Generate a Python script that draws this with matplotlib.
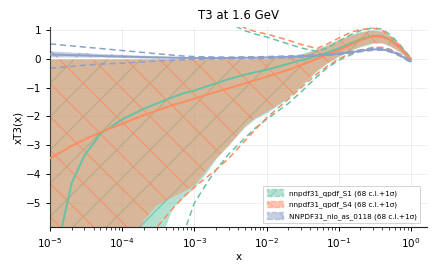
import numpy as np
import matplotlib
matplotlib.use("Agg")
import matplotlib.pyplot as plt
import matplotlib.patches as mpatches

# ---------------- data ----------------
xgrid = [1e-5, 1.5e-5, 2e-5, 3e-5, 5e-5, 1e-4, 2e-4, 3e-4, 5e-4, 7e-4,
         1e-3, 1.5e-3, 2e-3, 3e-3, 5e-3, 7e-3, 1e-2, 2e-2, 3e-2, 5e-2,
         0.07, 0.1, 0.15, 0.2, 0.3, 0.4, 0.5, 0.6, 0.7, 0.8, 0.9, 1.0]

# nnpdf31_qpdf_S1
s1_central = [-9.5, -5.7, -4.3, -3.35, -2.6, -2.1, -1.73, -1.55, -1.33, -1.2,
              -1.1, -0.95, -0.85, -0.7, -0.55, -0.46, -0.38, -0.17, -0.05, 0.1,
              0.22, 0.36, 0.55, 0.68, 0.8, 0.79, 0.68, 0.54, 0.4, 0.25, 0.11, 0.0]
s1_lo68 = [-30, -27, -24, -20, -16, -12, -8.5, -6.7, -5.2, -4.85,
           -4.5, -3.95, -3.5, -3.02, -2.4, -2.1, -1.9, -1.4, -1.0, -0.45,
           -0.17, 0.06, 0.28, 0.4, 0.52, 0.53, 0.45, 0.34, 0.23, 0.12, 0.03, -0.02]
s1_hi68 = [-0.02, -0.02, -0.02, -0.02, -0.02, -0.02, -0.02, -0.02, -0.02, -0.02,
           -0.02, -0.02, -0.02, -0.02, -0.02, -0.01, 0.0, 0.05, 0.15, 0.33,
           0.48, 0.65, 0.83, 0.93, 1.0, 0.96, 0.83, 0.67, 0.52, 0.35, 0.18, 0.03]
s1_lo1s = [-50, -45, -40, -34, -28, -18, -13, -10, -7.5, -6.1,
           -5.0, -4.3, -3.85, -3.3, -2.75, -2.4, -2.1, -1.55, -1.15, -0.62,
           -0.3, -0.05, 0.15, 0.28, 0.38, 0.38, 0.33, 0.24, 0.15, 0.07, 0.01, -0.04]
s1_hi1s = [22, 19, 17, 15, 12, 9, 6.3, 5.0, 4.0, 3.3,
           2.7, 2.1, 1.7, 1.25, 0.98, 0.86, 0.76, 0.52, 0.38, 0.26,
           0.38, 0.62, 0.85, 0.98, 1.08, 1.03, 0.86, 0.68, 0.5, 0.33, 0.17, 0.03]

# nnpdf31_qpdf_S4
s4_central = [-3.45, -3.2, -3.02, -2.8, -2.55, -2.25, -1.95, -1.8, -1.6, -1.5,
              -1.38, -1.24, -1.15, -1.02, -0.85, -0.74, -0.62, -0.38, -0.22, 0.0,
              0.15, 0.3, 0.5, 0.65, 0.78, 0.77, 0.66, 0.52, 0.38, 0.24, 0.1, 0.0]
s4_lo68 = [-20, -18, -16, -14, -12, -7.5, -5.6, -5.1, -4.8, -4.62,
           -4.4, -3.85, -3.45, -3.0, -2.35, -2.05, -1.85, -1.35, -0.95, -0.42,
           -0.15, 0.08, 0.3, 0.42, 0.55, 0.55, 0.47, 0.35, 0.24, 0.13, 0.04, -0.02]
s4_hi68 = [-0.02, -0.02, -0.02, -0.02, -0.02, -0.02, -0.02, -0.02, -0.02, -0.02,
           -0.02, -0.02, -0.02, -0.02, -0.02, -0.01, 0.0, 0.05, 0.12, 0.3,
           0.45, 0.62, 0.8, 0.9, 0.97, 0.93, 0.8, 0.65, 0.5, 0.33, 0.17, 0.02]
s4_lo1s = [-40, -35, -31, -27, -22, -12, -7.0, -5.85, -5.2, -4.8,
           -4.45, -4.1, -3.85, -3.45, -2.85, -2.45, -2.05, -1.4, -1.0, -0.52,
           -0.25, 0.0, 0.2, 0.3, 0.4, 0.4, 0.34, 0.25, 0.16, 0.08, 0.02, -0.04]
s4_hi1s = [23, 20, 18, 16, 13, 10, 7.0, 5.5, 4.3, 3.7,
           3.0, 2.3, 1.9, 1.45, 1.07, 0.95, 0.86, 0.65, 0.5, 0.36,
           0.52, 0.72, 0.93, 1.02, 1.06, 1.0, 0.8, 0.62, 0.46, 0.3, 0.15, 0.02]

# NNPDF31_nlo_as_0118
nn_central = [0.15, 0.14, 0.13, 0.12, 0.1, 0.08, 0.06, 0.05, 0.04, 0.035,
              0.03, 0.03, 0.03, 0.03, 0.04, 0.04, 0.05, 0.07, 0.09, 0.12,
              0.15, 0.18, 0.23, 0.28, 0.33, 0.33, 0.28, 0.21, 0.13, 0.05, -0.03, -0.08]
nn_lo68 = [0.05, 0.05, 0.05, 0.05, 0.05, 0.03, 0.02, 0.02, 0.015, 0.01,
           0.01, 0.01, 0.01, 0.01, 0.02, 0.02, 0.03, 0.05, 0.07, 0.1,
           0.13, 0.16, 0.21, 0.26, 0.31, 0.31, 0.26, 0.19, 0.11, 0.03, -0.05, -0.1]
nn_hi68 = [0.26, 0.24, 0.22, 0.2, 0.17, 0.14, 0.11, 0.09, 0.075, 0.065,
           0.055, 0.05, 0.05, 0.05, 0.06, 0.06, 0.07, 0.09, 0.11, 0.14,
           0.17, 0.2, 0.25, 0.3, 0.35, 0.35, 0.3, 0.23, 0.15, 0.07, -0.01, -0.06]
nn_lo1s = [-0.32, -0.29, -0.26, -0.22, -0.18, -0.15, -0.1, -0.07, -0.05, -0.03,
           -0.02, -0.01, 0.0, 0.0, 0.01, 0.01, 0.02, 0.04, 0.06, 0.09,
           0.12, 0.15, 0.2, 0.25, 0.3, 0.3, 0.25, 0.18, 0.1, 0.02, -0.06, -0.11]
nn_hi1s = [0.52, 0.48, 0.45, 0.41, 0.36, 0.29, 0.22, 0.18, 0.13, 0.1,
           0.08, 0.07, 0.065, 0.06, 0.07, 0.07, 0.08, 0.1, 0.12, 0.15,
           0.18, 0.21, 0.26, 0.31, 0.36, 0.36, 0.31, 0.24, 0.16, 0.08, 0.0, -0.05]

labels = ["nnpdf31_qpdf_S1 (68 c.l.+1σ)",
          "nnpdf31_qpdf_S4 (68 c.l.+1σ)",
          "NNPDF31_nlo_as_0118 (68 c.l.+1σ)"]
colors = ["#66c2a5", "#fc8d62", "#8da0cb"]
hatches = ["/", "\\", "x"]

series = [
    (s1_central, s1_lo68, s1_hi68, s1_lo1s, s1_hi1s),
    (s4_central, s4_lo68, s4_hi68, s4_lo1s, s4_hi1s),
    (nn_central, nn_lo68, nn_hi68, nn_lo1s, nn_hi1s),
]

# ---------------- plot ----------------
plt.rcParams["hatch.linewidth"] = 0.8
fig = plt.figure(figsize=(4.43, 2.72), dpi=100)
ax = fig.add_axes([0.113, 0.166, 0.852, 0.733])

handles = []
for (cen, lo68, hi68, lo1, hi1), col, hat, lab in zip(series, colors, hatches, labels):
    ax.fill_between(xgrid, lo68, hi68, facecolor=col, alpha=0.5,
                    linewidth=0, zorder=1)
    ax.fill_between(xgrid, lo68, hi68, facecolor="none", edgecolor=col,
                    hatch=hat, alpha=0.85, linewidth=0, zorder=1)
    ax.plot(xgrid, cen, color=col, lw=1.4, zorder=3)
    ax.plot(xgrid, lo1, color=col, lw=1.1, ls="--", dashes=(4, 2.5), zorder=2)
    ax.plot(xgrid, hi1, color=col, lw=1.1, ls="--", dashes=(4, 2.5), zorder=2)
    handles.append(mpatches.Patch(facecolor=col, edgecolor=col, alpha=0.5,
                                  hatch=hat, linestyle="--", linewidth=1.0,
                                  label=lab))

ax.set_xscale("log")
ax.set_xlim(1e-5, 1.7)
ax.set_ylim(-5.83, 1.09)
ax.set_yticks([1, 0, -1, -2, -3, -4, -5])
ax.grid(True, color="#eeeeee", lw=0.7, zorder=0)
ax.set_axisbelow(True)
for s in ["top", "right"]:
    ax.spines[s].set_visible(False)
ax.spines["left"].set_color("#444444")
ax.spines["bottom"].set_color("#222222")
ax.tick_params(axis="both", labelsize=7.5, length=3, width=0.7)
ax.tick_params(axis="x", which="minor", length=1.8, width=0.5)

ax.set_title("T3 at 1.6 GeV", fontsize=8.5, pad=6)
ax.set_xlabel("x", fontsize=7.5, labelpad=2)
ax.set_ylabel("xT3(x)", fontsize=7.5, labelpad=2)

leg = ax.legend(handles=handles, loc="lower right", fontsize=5.2,
                frameon=True, fancybox=False, framealpha=1,
                handlelength=2.2, handleheight=1.0, borderpad=0.5,
                labelspacing=0.55, bbox_to_anchor=(0.99, 0.0))
leg.get_frame().set_edgecolor("#cccccc")
leg.get_frame().set_linewidth(0.6)

fig.savefig("out.png", dpi=100)
